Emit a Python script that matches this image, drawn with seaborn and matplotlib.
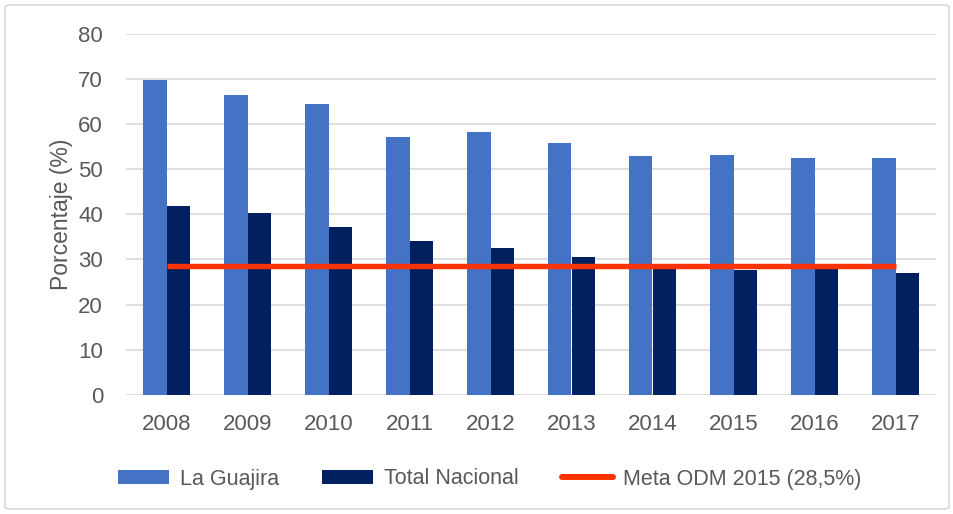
import matplotlib
matplotlib.use("Agg")
import matplotlib.pyplot as plt
import seaborn as sns
import pandas as pd
from matplotlib.patches import Patch, FancyBboxPatch
from matplotlib.lines import Line2D

years = ["2008", "2009", "2010", "2011", "2012", "2013", "2014", "2015", "2016", "2017"]
la_guajira = [69.8, 66.5, 64.5, 57.1, 58.2, 55.9, 52.9, 53.2, 52.5, 52.5]
total_nacional = [41.9, 40.2, 37.1, 34.0, 32.5, 30.5, 28.3, 27.6, 28.0, 27.0]
meta = [28.5, 28.5, 28.5, 28.5, 28.5, 28.5, 28.5, 28.5, 28.5, 28.5]
series_names = ["La Guajira", "Total Nacional"]
meta_name = "Meta ODM 2015 (28,5%)"
yticks = [0, 10, 20, 30, 40, 50, 60, 70, 80]

df = pd.DataFrame({
    "Año": years * 2,
    "Valor": la_guajira + total_nacional,
    "Serie": [series_names[0]] * len(years) + [series_names[1]] * len(years),
})

sns.set_theme(style="white")
plt.rcParams["font.family"] = ["Liberation Sans", "DejaVu Sans"]

W, H = 954, 514
fig = plt.figure(figsize=(W / 100, H / 100), dpi=100)
ax = fig.add_axes([126 / W, 1 - 394.7 / H, (936 - 126) / W, (394.7 - 34) / H])

colors = {"La Guajira": "#4472C4", "Total Nacional": "#002060"}
sns.barplot(data=df, x="Año", y="Valor", hue="Serie", palette=colors, saturation=1,
            width=0.585, gap=0, dodge=True, ax=ax, legend=False,
            edgecolor="none", linewidth=0, zorder=2)

ax.plot(range(len(years)), meta, color="#FF3300", linewidth=3.9, zorder=3,
        solid_capstyle="butt")

ax.set_ylim(0, 80)
ax.set_xlim(-0.5, len(years) - 0.5)
ax.set_yticks(yticks)
ax.yaxis.grid(True, color="#D9D9D9", linewidth=1.2, zorder=0)
ax.set_axisbelow(True)
for s in ax.spines.values():
    s.set_visible(False)
ax.tick_params(axis="both", length=0, labelsize=16, labelcolor="#595959")
ax.tick_params(axis="y", pad=16.5)
ax.tick_params(axis="x", pad=14)
ax.set_xlabel("")
ax.set_ylabel("Porcentaje (%)", fontsize=16.5, color="#595959", labelpad=4)

handles = [
    Patch(facecolor=colors["La Guajira"], edgecolor="none"),
    Patch(facecolor=colors["Total Nacional"], edgecolor="none"),
    Line2D([0], [0], color="#FF3300", linewidth=4.3),
]
labels = [series_names[0], series_names[1], meta_name]
leg = fig.legend(handles, labels, loc="center", bbox_to_anchor=(490 / W, 1 - 479 / H),
                 ncol=3, frameon=False, fontsize=15.5, handlelength=2.37, handleheight=0.6,
                 handletextpad=0.5, columnspacing=2.0)
for t in leg.get_texts():
    t.set_color("#595959")

border = FancyBboxPatch((5 / W, 5 / H), (W - 10) / W, (H - 10) / H,
                        boxstyle="round,pad=0,rounding_size=0.005",
                        transform=fig.transFigure, fill=False,
                        edgecolor="#D9D9D9", linewidth=1.2)
fig.patches.append(border)

fig.savefig("out.png", dpi=100, facecolor="white")
